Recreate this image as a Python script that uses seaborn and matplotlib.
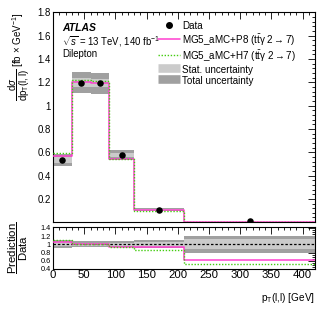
import numpy as np
import pandas as pd
import matplotlib
matplotlib.use("Agg")
import matplotlib.pyplot as plt
from matplotlib.lines import Line2D
from matplotlib.ticker import MultipleLocator, FixedLocator, FixedFormatter
import seaborn as sns

# ---------------- data ----------------
bin_edges = [0, 30, 60, 90, 130, 210, 420]
data_vals = [0.535, 1.198, 1.192, 0.577, 0.108, 0.008]
p8_vals = [0.572, 1.206, 1.195, 0.543, 0.100, 0.0049]
h7_vals = [0.590, 1.220, 1.212, 0.546, 0.092, 0.0042]
rel_total = [0.10, 0.075, 0.075, 0.07, 0.10, 0.20]
rel_stat = [0.05, 0.03, 0.03, 0.035, 0.055, 0.12]
main_yticks = [0.2, 0.4, 0.6, 0.8, 1.0, 1.2, 1.4, 1.6, 1.8]
main_yticklabels = ["0.2", "0.4", "0.6", "0.8", "1", "1.2", "1.4", "1.6", "1.8"]
ratio_yticks = [0.4, 0.6, 0.8, 1.0, 1.2, 1.4]
ratio_yticklabels = ["0.4", "0.6", "0.8", "1", "1.2", "1.4"]
xticks = [0, 50, 100, 150, 200, 250, 300, 350, 400]

sns.set_theme(style="white")
plt.rcParams['font.family'] = ['Liberation Sans', 'DejaVu Sans']
plt.rcParams['mathtext.fontset'] = 'custom'
plt.rcParams['mathtext.rm'] = 'Liberation Sans'
plt.rcParams['mathtext.it'] = 'Liberation Sans:italic'
plt.rcParams['mathtext.bf'] = 'Liberation Sans:bold'
plt.rcParams['text.color'] = 'black'
plt.rcParams['axes.labelcolor'] = 'black'
plt.rcParams['xtick.color'] = 'black'
plt.rcParams['ytick.color'] = 'black'

PINK = "#ff3fd0"
GREEN = "#44cc11"
STAT_C = "#cbcbcb"
TOT_C = "#a0a0a0"
FS = 6.6

edges = np.array(bin_edges, dtype=float)
lo = edges[:-1]
widths = np.diff(edges)
centers = lo + widths / 2
data = np.array(data_vals)
p8 = np.array(p8_vals)
h7 = np.array(h7_vals)
tot = np.array(rel_total)
stat = np.array(rel_stat)

fig = plt.figure(figsize=(3.32, 3.19), dpi=100)
ax = fig.add_axes([0.160, 0.304, 0.789, 0.657])
rax = fig.add_axes([0.160, 0.157, 0.789, 0.131])

# ---------------- main panel ----------------
ax.bar(lo, 2 * tot * data, bottom=data * (1 - tot), width=widths, align='edge',
       color=TOT_C, linewidth=0, zorder=1)
ax.bar(lo, 2 * stat * data, bottom=data * (1 - stat), width=widths, align='edge',
       color=STAT_C, linewidth=0, zorder=2)

def step_df(vals):
    return pd.DataFrame({"x": edges, "y": np.append(vals, vals[-1])})

sns.lineplot(data=step_df(p8), x="x", y="y", ax=ax, color=PINK, lw=1.1,
             drawstyle="steps-post", zorder=3)
sns.lineplot(data=step_df(h7), x="x", y="y", ax=ax, color=GREEN, lw=1.0,
             linestyle=(0, (1, 1.2)), drawstyle="steps-post", zorder=4)
sns.scatterplot(x=centers, y=data, ax=ax, color="black", s=22, edgecolor="black",
                linewidth=0, zorder=5)

ax.set_xlim(0, 420)
ax.set_ylim(0.001, 1.8)
ax.yaxis.set_major_locator(FixedLocator(main_yticks))
ax.yaxis.set_major_formatter(FixedFormatter(main_yticklabels))
ax.yaxis.set_minor_locator(MultipleLocator(0.04))
ax.xaxis.set_major_locator(MultipleLocator(50))
ax.xaxis.set_minor_locator(MultipleLocator(10))
ax.set_xticklabels([])
ax.set_xlabel("")
ax.set_ylabel(r"$\dfrac{\mathrm{d}\sigma}{\mathrm{dp_{T}(l,l)}}$ [fb $\times$ GeV$^{-1}$]",
              fontsize=FS + 0.4, loc='top', labelpad=4)

for a in (ax, rax):
    a.tick_params(which='both', direction='in', top=True, right=True,
                  labelsize=FS + 0.3, pad=1.5, colors='black')
    a.tick_params(which='major', length=5, width=0.6)
    a.tick_params(which='minor', length=2.5, width=0.6)
    for s in a.spines.values():
        s.set_color('black')
        s.set_linewidth(0.8)

ax.text(0.035, 0.925, "ATLAS", transform=ax.transAxes, fontsize=FS + 0.9,
        fontweight='bold', fontstyle='italic', va='center')
ax.text(0.035, 0.862, r"$\sqrt{s}$ = 13 TeV, 140 fb$^{-1}$", transform=ax.transAxes,
        fontsize=FS + 0.3, va='center')
ax.text(0.035, 0.80, "Dilepton", transform=ax.transAxes, fontsize=FS + 0.3, va='center')

handles = [
    Line2D([], [], marker='o', color='black', linestyle='none', markersize=4),
    Line2D([], [], color=PINK, lw=1.1),
    Line2D([], [], color=GREEN, lw=1.0, linestyle=(0, (1, 1.2))),
    Line2D([], [], color=STAT_C, lw=6.2, solid_capstyle='butt'),
    Line2D([], [], color=TOT_C, lw=6.2, solid_capstyle='butt'),
]
labels = ["Data",
          r"MG5_aMC+P8 ($\mathrm{t\bar{t}\gamma}$ 2$\rightarrow$7)",
          r"MG5_aMC+H7 ($\mathrm{t\bar{t}\gamma}$ 2$\rightarrow$7)",
          "Stat. uncertainty", "Total uncertainty"]
ax.legend(handles, labels, loc='upper left', bbox_to_anchor=(0.40, 0.962),
          frameon=False, fontsize=FS + 0.5, handlelength=2.2, handletextpad=0.25,
          labelspacing=0.0, handleheight=1.38, borderaxespad=0, borderpad=0.0)

# ---------------- ratio panel ----------------
rax.bar(lo, 2 * tot, bottom=1 - tot, width=widths, align='edge',
        color=TOT_C, linewidth=0, zorder=1)
rax.bar(lo, 2 * stat, bottom=1 - stat, width=widths, align='edge',
        color=STAT_C, linewidth=0, zorder=2)
rax.axhline(1.0, color='black', lw=0.9, linestyle=(0, (2, 1.5)), zorder=3)
sns.lineplot(data=step_df(p8 / data), x="x", y="y", ax=rax, color=PINK, lw=1.1,
             drawstyle="steps-post", zorder=4)
sns.lineplot(data=step_df(h7 / data), x="x", y="y", ax=rax, color=GREEN, lw=1.0,
             linestyle=(0, (1, 1.2)), drawstyle="steps-post", zorder=5)

rax.set_xlim(0, 420)
rax.set_ylim(0.4, 1.42)
rax.yaxis.set_major_locator(FixedLocator(ratio_yticks))
rax.yaxis.set_major_formatter(FixedFormatter(ratio_yticklabels))
rax.yaxis.set_minor_locator(MultipleLocator(0.05))
rax.xaxis.set_major_locator(FixedLocator(xticks))
rax.xaxis.set_minor_locator(MultipleLocator(10))
rax.tick_params(axis='y', labelsize=FS - 1.3)
rax.tick_params(axis='x', labelsize=FS + 1.6, pad=1)
rax.set_ylabel(r"$\dfrac{\mathrm{Prediction}}{\mathrm{Data}}$", fontsize=FS + 1.6, labelpad=8)
rax.set_xlabel(r"p$_{\mathrm{T}}$(l,l) [GeV]", fontsize=FS + 0.6, loc='right', labelpad=8)

fig.savefig("out.png", dpi=100)
